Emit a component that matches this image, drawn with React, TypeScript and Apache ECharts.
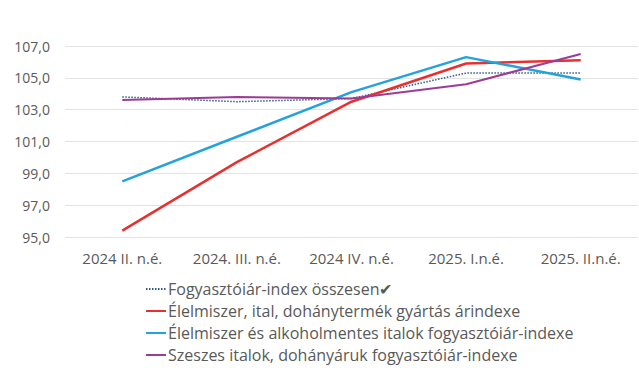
import React, { useEffect, useRef } from "react";
import * as echarts from "echarts";

const categories = ["2024 II. n.é.", "2024. III. n.é.", "2024 IV. n.é.", "2025. I.n.é.", "2025. II.n.é."];
const seriesNames = [
  "Fogyasztóiár-index összesen✔",
  "Élelmiszer, ital, dohánytermék gyártás árindexe",
  "Élelmiszer és alkoholmentes italok fogyasztóiár-indexe",
  "Szeszes italok, dohányáruk fogyasztóiár-indexe",
];
const totalCpi = [103.8, 103.5, 103.7, 105.3, 105.3];
const foodProduction = [95.4, 99.7, 103.5, 105.9, 106.1];
const foodCpi = [98.5, 101.3, 104.1, 106.3, 104.9];
const alcoholTobacco = [103.6, 103.8, 103.7, 104.6, 106.5];

export default function App() {
  const ref = useRef<HTMLDivElement>(null);
  useEffect(() => {
    if (!ref.current) return;
    const chart = echarts.init(ref.current, undefined, { renderer: "svg" });
    const font = "'Open Sans', sans-serif";
    const mk = (name: string, data: number[], color: string, width: number, type: any) => ({
      name,
      type: "line",
      data,
      symbol: "none",
      lineStyle: { color, width, type },
      itemStyle: { color },
    });
    chart.setOption({
      animation: false,
      textStyle: { fontFamily: font },
      grid: { left: 65, right: 1, top: 46, height: 191 },
      xAxis: {
        type: "category",
        data: categories,
        boundaryGap: true,
        axisLine: { show: false },
        axisTick: { show: false },
        axisLabel: { color: "#595959", fontSize: 15, fontFamily: font, margin: 13 },
      },
      yAxis: {
        type: "value",
        min: 95,
        max: 107,
        interval: 2,
        axisLabel: {
          color: "#595959",
          fontSize: 14,
          fontFamily: font,
          margin: 15,
          formatter: (v: number) => v.toFixed(1).replace(".", ","),
        },
        splitLine: { lineStyle: { color: "#e3e3e3", width: 1 } },
      },
      legend: {
        orient: "vertical",
        left: 140,
        top: 276,
        itemGap: 6,
        itemWidth: 20,
        itemHeight: 14,
        itemStyle: { opacity: 0 },
        textStyle: { color: "#595959", fontSize: 16, fontFamily: font, padding: [0, 0, 0, -3] },
        data: seriesNames,
      },
      series: [
        mk(seriesNames[0], totalCpi, "#2d5b8a", 1.5, [1.5, 1.5]),
        mk(seriesNames[1], foodProduction, "#e8302e", 2.5, "solid"),
        mk(seriesNames[2], foodCpi, "#24a2dc", 2.5, "solid"),
        mk(seriesNames[3], alcoholTobacco, "#9b3d96", 2, "solid"),
      ],
    });
    return () => chart.dispose();
  }, []);
  return <div ref={ref} style={{ width: 639, height: 368, position: "absolute", left: 0, top: 0 }} />;
}
